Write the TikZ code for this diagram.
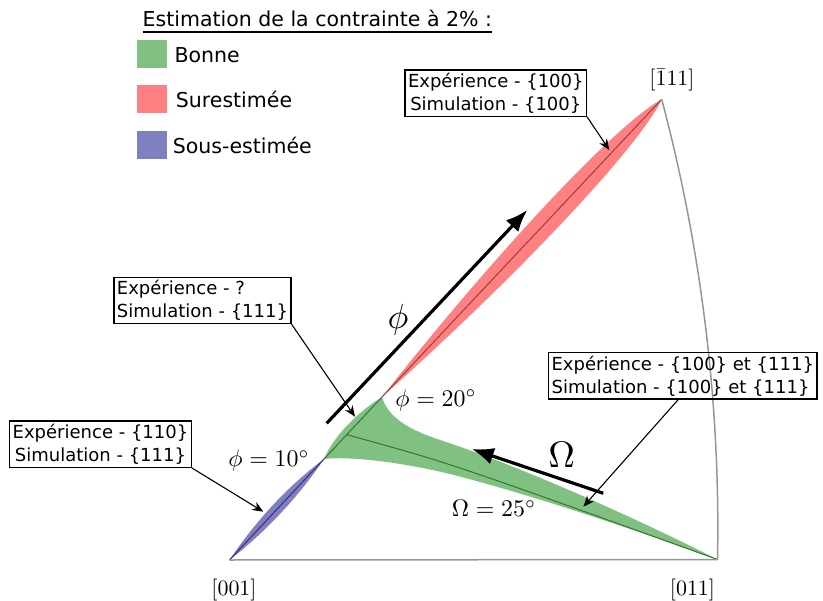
\documentclass[tikz,border=0pt]{standalone}
\usepackage[no-math]{fontspec}
\newfontfamily\dejavu{DejaVu Sans}
\usetikzlibrary{arrows.meta,calc}
\definecolor{gfill}{RGB}{128,192,128}
\definecolor{rfill}{RGB}{255,128,128}
\definecolor{bfill}{RGB}{128,128,192}
\definecolor{gline}{RGB}{50,120,50}
\definecolor{rline}{RGB}{160,60,60}
\definecolor{bline}{RGB}{50,50,130}
\definecolor{edgegray}{RGB}{150,150,150}
\newcommand{\mathlbl}[2]{\scalebox{#1}{$#2$}}
\tikzset{
  callout/.style={draw=black, line width=1.1bp, inner sep=3bp, font=\dejavu\fontsize{18bp}{23bp}\selectfont},
  pointer/.style={line width=1.1bp, -{Stealth[length=11bp,width=9bp]}},
  bigarrow/.style={line width=3.2bp, -{Latex[length=22bp,width=17bp]}},
  legtext/.style={anchor=base west, inner sep=0pt, font=\dejavu\fontsize{20.5bp}{24bp}\selectfont},
  legsq/.style={minimum width=30bp, minimum height=28bp, inner sep=0pt},
  axislbl/.style={anchor=base, inner sep=0pt},
  anglbl/.style={anchor=base, inner sep=0pt},
  tri/.style={draw=edgegray, line width=1.5bp},
  midline/.style={line width=1bp},
}
\begin{document}
\begin{tikzpicture}[x=1bp,y=-1bp]
\useasboundingbox (0,0) rectangle (823,601);

% ---------- legend ----------
\node[legtext] (title) at (142.5,26.7) {Estimation de la contrainte à 2\% :};
\draw[line width=1.8bp] ([yshift=-5.6bp]title.base west) -- ([yshift=-5.6bp]title.base east);
\node[legsq, fill=gfill] (sqg) at (151.7,54.2) {};
\node[legsq, fill=rfill] (sqr) at (151.7,99.2) {};
\node[legsq, fill=bfill] (sqb) at (151.7,145.2) {};
\node[legtext] (lg) at (174.3,62.3) {Bonne};
\node[legtext] (lr) at (175.7,107.7) {Surestimée};
\node[legtext] (lb) at (172.7,153.3) {Sous-estimée};

% ---------- key points ----------
\coordinate (P001) at (229.5,560);
\coordinate (P011) at (717.5,559.5);
\coordinate (P111) at (661.7,99.3);
\coordinate (L) at (324,459);
\coordinate (T) at (382,397);
\coordinate (O) at (346.7,434.7);

% ---------- blue lens ----------
\fill[bfill] (P001) .. controls (266.8,530.9) and (298.7,496.4) .. (L)
  .. controls (287.7,486.2) and (255.8,520.7) .. (P001) -- cycle;
\draw[bline, midline] (P001) -- (L);

% ---------- red lens ----------
\fill[rfill] (T) .. controls (519.6,274.0) and (639.8,146.0) .. (P111)
  .. controls (616.4,124.0) and (496.2,252.0) .. (T) -- cycle;
\draw[rline, midline] (T) -- (P111);

% ---------- green region ----------
\fill[gfill] (L) .. controls (332,440) and (352,416) .. (T)
  .. controls (388,418) and (410,430) .. (440,440)
  .. controls (520,466) and (640,520) .. (P011)
  .. controls (640,532) and (540,497) .. (450,474)
  .. controls (400,462) and (350,456) .. (L) -- cycle;
\draw[gline, midline] (L) -- (T);
\draw[gline, midline] (O) .. controls (450,463) .. (P011);

% ---------- triangle edges ----------
\draw[tri] (P001) -- (P011);
\draw[tri] (P011) .. controls (720.5,405) and (701.5,249) .. (P111);

% ---------- axis labels ----------
\node[axislbl] (l001) at (234,595) {\mathlbl{2.2}{[001]}};
\node[axislbl] (l011) at (692.5,595) {\mathlbl{2.2}{[011]}};
\node[axislbl] (l111) at (672,86) {\mathlbl{2.2}{[\bar{1}11]}};

\node[anglbl] (a10) at (269,466.7) {\mathlbl{2.4}{\phi=10^\circ}};
\node[anglbl] (a20) at (436,406) {\mathlbl{2.4}{\phi=20^\circ}};
\node[anglbl] (a25) at (494,516.7) {\mathlbl{2.4}{\Omega=25^\circ}};

% ---------- big arrows ----------
\coordinate (phA) at (326.7,423.3);
\coordinate (phB) at (527.3,210);
\draw[bigarrow] (phA) -- (phB);
\node[inner sep=0pt] (phi) at (398,320) {\mathlbl{3.5}{\phi}};
\coordinate (omA) at (603.3,493.3);
\coordinate (omB) at (471.7,449);
\draw[bigarrow] (omA) -- (omB);
\node[inner sep=0pt] (om) at (561.7,455) {\mathlbl{3.7}{\Omega}};

% ---------- callout boxes ----------
\node[callout, align=center] (b1) at (495.8,93.2) {Expérience - \{100\}\\Simulation - \{100\}};
\node[callout, align=left] (b2) at (202.5,300.5) {Expérience - ?\\Simulation - \{111\}};
\node[callout, align=center] (b3) at (100.5,444.2) {Expérience - \{110\}\\Simulation - \{111\}};
\node[callout, align=left] (b4) at (682.8,375.8) {Expérience - \{100\} et \{111\}\\Simulation - \{100\} et \{111\}};

\coordinate (t1) at (609.3,150);
\coordinate (t2) at (355,416.7);
\coordinate (t3) at (263.3,511.7);
\coordinate (t4) at (583.3,506.7);
\draw[pointer] (b1.south east) -- (t1);
\draw[pointer] (b2.south east) -- (t2);
\draw[pointer] (b3.south east) -- (t3);
\draw[pointer] ([xshift=-4.5bp]b4.south) -- (t4);
\end{tikzpicture}
\end{document}
